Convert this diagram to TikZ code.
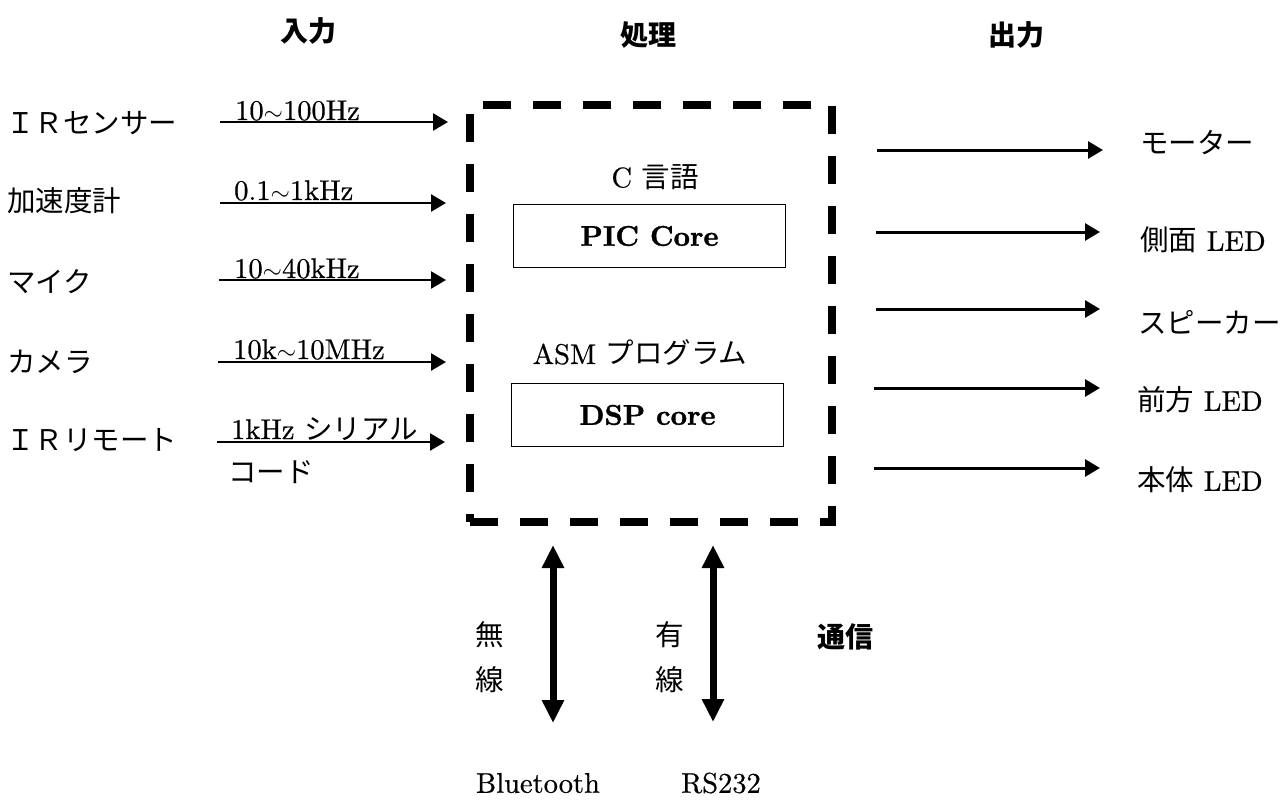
\documentclass[tikz,border=0pt]{standalone}
\usepackage{fontspec}
\setmainfont{lmroman10-regular.otf}[BoldFont=lmroman10-bold.otf, RawFeature={embolden=0.6}]
\newfontfamily\corefont{lmroman10-bold.otf}[RawFeature={embolden=1.2}]
\newfontfamily\jp{Noto Sans CJK JP}
\usetikzlibrary{arrows.meta}
\tikzset{
  lbl/.style={inner sep=0pt, font=\fontsize{28.5}{32}\selectfont},
  head/.style={inner sep=0pt, font=\fontsize{28}{32}\selectfont\bfseries\jp},
  core/.style={draw, line width=1.5pt, minimum width=272pt, minimum height=63pt, inner sep=0pt, font=\fontsize{28.5}{32}\selectfont\corefont},
  procbox/.style={draw, line width=8pt, dash pattern=on 28pt off 22pt, minimum width=362pt, minimum height=417pt, inner sep=0pt},
  sigarrow/.style={line width=2.5pt, -{Triangle[length=15pt, width=17pt]}},
  outarrow/.style={line width=3pt, -{Triangle[length=15pt, width=17pt]}},
  commarrow/.style={line width=7pt, {Triangle[length=23pt, width=21pt]}-{Triangle[length=23pt, width=21pt]}}
}
\begin{document}
\begin{tikzpicture}[x=1pt, y=-1pt]
\useasboundingbox (0,0) rectangle (1281,807);
% headings
\node[head] (hin) at (308,31) {入力};
\node[head] (hproc) at (648,35) {処理};
\node[head] (hout) at (1016,35) {出力};
\node[head] (hcomm) at (845,637) {通信};
% processing block
\node[procbox] (box) at (651,313.5) {};
\node[lbl] (clang) at (655,177) {C {\jp 言語}};
\node[core] (pic) at (649.5,236) {PIC Core};
\node[lbl] (asm) at (640,353) {ASM {\jp プログラム}};
\node[core] (dsp) at (647.5,415) {DSP core};
% inputs
\node[lbl, anchor=west] (i1) at (6,123) {\jp ＩＲセンサー};
\node[lbl, anchor=west] (i2) at (7,201) {\jp 加速度計};
\node[lbl, anchor=west] (i3) at (7,282) {\jp マイク};
\node[lbl, anchor=west] (i4) at (7,362) {\jp カメラ};
\node[lbl, anchor=west] (i5) at (6,440) {\jp ＩＲリモート};
\coordinate (a1s) at (220,122); \coordinate (a1e) at (448,122);
\coordinate (a2s) at (220,203); \coordinate (a2e) at (446,203);
\coordinate (a3s) at (219,280); \coordinate (a3e) at (446,280);
\coordinate (a4s) at (218,362); \coordinate (a4e) at (446,362);
\coordinate (a5s) at (217,442); \coordinate (a5e) at (445,442);
\draw[sigarrow] (a1s) -- (a1e);
\draw[sigarrow] (a2s) -- (a2e);
\draw[sigarrow] (a3s) -- (a3e);
\draw[sigarrow] (a4s) -- (a4e);
\draw[sigarrow] (a5s) -- (a5e);
\node[lbl, anchor=base west] (f1) at (235,120) {10$\sim$100Hz};
\node[lbl, anchor=base west] (f2) at (234,200) {0.1$\sim$1kHz};
\node[lbl, anchor=base west] (f3) at (234,278) {10$\sim$40kHz};
\node[lbl, anchor=base west] (f4) at (233,359) {10k$\sim$10MHz};
\node[lbl, anchor=base west] (f5) at (231,439) {1kHz {\jp シリアル}};
\node[lbl] (f5b) at (271,472) {\jp コード};
% outputs
\coordinate (o1s) at (877,150); \coordinate (o1e) at (1103,150);
\coordinate (o2s) at (876,232); \coordinate (o2e) at (1100,232);
\coordinate (o3s) at (876,309); \coordinate (o3e) at (1100,309);
\coordinate (o4s) at (874,388); \coordinate (o4e) at (1100,388);
\coordinate (o5s) at (874,468); \coordinate (o5e) at (1100,468);
\draw[outarrow] (o1s) -- (o1e);
\draw[outarrow] (o2s) -- (o2e);
\draw[outarrow] (o3s) -- (o3e);
\draw[outarrow] (o4s) -- (o4e);
\draw[outarrow] (o5s) -- (o5e);
\node[lbl, anchor=west] (r1) at (1140,143) {\jp モーター};
\node[lbl, anchor=west] (r2) at (1140,240) {{\jp 側面} LED};
\node[lbl, anchor=west] (r3) at (1138,322) {\jp スピーカー};
\node[lbl, anchor=west] (r4) at (1137,400) {{\jp 前方} LED};
\node[lbl, anchor=west] (r5) at (1137,480) {{\jp 本体} LED};
% communication
\coordinate (b1t) at (553,545); \coordinate (b1b) at (553,723);
\coordinate (b2t) at (713,545); \coordinate (b2b) at (713,722);
\draw[commarrow] (b1t) -- (b1b);
\draw[commarrow] (b2t) -- (b2b);
\node[lbl] (w1) at (490,635) {\jp 無};
\node[lbl] (w2) at (490,680) {\jp 線};
\node[lbl] (y1) at (670,635) {\jp 有};
\node[lbl] (y2) at (670,680) {\jp 線};
\node[lbl] (bt) at (538,783) {Bluetooth};
\node[lbl] (rs) at (721,783) {RS232};
\end{tikzpicture}
\end{document}
